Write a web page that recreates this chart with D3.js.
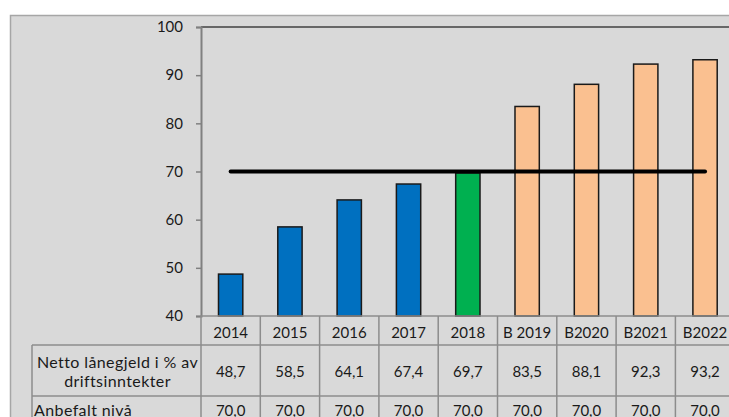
<!DOCTYPE html>
<html>
<head>
<meta charset="utf-8">
<script src="https://cdn.jsdelivr.net/npm/d3@7"></script>
<style>
  body { margin: 0; background: #fff; overflow: hidden; }
  text { font-family: Lato, "Open Sans", sans-serif; fill: #1a1a1a; }
</style>
</head>
<body>
<script>
// data
var categories = ["2014", "2015", "2016", "2017", "2018", "B 2019", "B2020", "B2021", "B2022"];
var lanegjeld = [48.7, 58.5, 64.1, 67.4, 69.7, 83.5, 88.1, 92.3, 93.2];
var anbefalt = [70.0, 70.0, 70.0, 70.0, 70.0, 70.0, 70.0, 70.0, 70.0];
var kind = ["regnskap", "regnskap", "regnskap", "regnskap", "siste", "budsjett", "budsjett", "budsjett", "budsjett"];
var yTicks = [40, 50, 60, 70, 80, 90, 100];
var rowLabels = [["Netto lånegjeld i % av", "driftsinntekter"], ["Anbefalt nivå"]];

var W = 729, H = 417;
var margin = {left: 201, top: 27};
var colW = 59.3;
var plotBottom = 316;

var svg = d3.select("body").append("svg")
    .attr("width", W)
    .attr("height", H);

// chart area background + border
svg.append("rect")
    .attr("x", 10.5).attr("y", 15.5)
    .attr("width", W).attr("height", H)
    .attr("fill", "#d9d9d9")
    .attr("stroke", "#a6a6a6")
    .attr("stroke-width", 1.5);

var x = d3.scaleBand()
    .domain(categories)
    .range([margin.left, margin.left + colW * categories.length]);

var y = d3.scaleLinear()
    .domain([40, 100])
    .range([plotBottom, margin.top]);

var color = d3.scaleOrdinal()
    .domain(["regnskap", "siste", "budsjett"])
    .range(["#0070c0", "#00b050", "#fac090"]);

// top border of plot
svg.append("line")
    .attr("x1", margin.left).attr("x2", W)
    .attr("y1", y(100)).attr("y2", y(100))
    .attr("stroke", "#404040").attr("stroke-width", 1.5);

// y axis
var yAxis = svg.append("g")
    .attr("transform", "translate(" + margin.left + ",0)")
    .call(d3.axisLeft(y).tickValues(yTicks).tickSize(5).tickPadding(13));
yAxis.select(".domain").attr("stroke", "#808080").attr("stroke-width", 2);
yAxis.selectAll(".tick line").attr("stroke", "#808080").attr("stroke-width", 1.5);
yAxis.selectAll(".tick text")
    .style("font-size", "15px")
    .attr("fill", "#1a1a1a");

// bars
var barW = x.bandwidth() * 0.41;
svg.append("g").selectAll("rect")
    .data(categories)
    .enter().append("rect")
    .attr("x", function(d) { return x(d) + (x.bandwidth() - barW) / 2; })
    .attr("y", function(d, i) { return y(lanegjeld[i]); })
    .attr("width", barW)
    .attr("height", function(d, i) { return plotBottom - y(lanegjeld[i]); })
    .attr("fill", function(d, i) { return color(kind[i]); })
    .attr("stroke", "#1a1a1a")
    .attr("stroke-width", 1.5);

// recommended level line
var line = d3.line()
    .x(function(d, i) { return x(categories[i]) + x.bandwidth() / 2; })
    .y(function(d) { return y(d); });
svg.append("path")
    .datum(anbefalt)
    .attr("d", line)
    .attr("fill", "none")
    .attr("stroke", "#000")
    .attr("stroke-width", 4)
    .attr("stroke-linecap", "round");

// data table
var gridColor = "#8c8c8c";
var rowY = [plotBottom, 345, 396];
var tableLeft = 32;
var tableRight = margin.left + colW * categories.length;
var grid = svg.append("g").attr("stroke", gridColor).attr("stroke-width", 1.5);

grid.append("line").attr("x1", margin.left).attr("x2", tableRight)
    .attr("y1", plotBottom).attr("y2", plotBottom);
grid.append("line").attr("x1", tableLeft).attr("x2", tableRight)
    .attr("y1", rowY[1]).attr("y2", rowY[1]);
grid.append("line").attr("x1", tableLeft).attr("x2", tableRight)
    .attr("y1", rowY[2]).attr("y2", rowY[2]);
grid.append("line").attr("x1", tableLeft).attr("x2", tableLeft)
    .attr("y1", rowY[1]).attr("y2", H);
grid.selectAll(".col")
    .data(categories.concat(["end"]))
    .enter().append("line")
    .attr("class", "col")
    .attr("x1", function(d, i) { return margin.left + i * colW; })
    .attr("x2", function(d, i) { return margin.left + i * colW; })
    .attr("y1", plotBottom)
    .attr("y2", H);

var cx = function(i) { return x(categories[i]) + x.bandwidth() / 2; };
var fmt = function(v) { return v.toFixed(1).replace(".", ","); };

// category labels
svg.append("g").selectAll("text")
    .data(categories)
    .enter().append("text")
    .attr("x", function(d, i) { return cx(i); })
    .attr("y", 338)
    .attr("text-anchor", "middle")
    .style("font-size", "15px")
    .text(function(d) { return d; });

// row values
svg.append("g").selectAll("text")
    .data(lanegjeld)
    .enter().append("text")
    .attr("x", function(d, i) { return cx(i); })
    .attr("y", 376.5)
    .attr("text-anchor", "middle")
    .style("font-size", "15px")
    .text(fmt);

svg.append("g").selectAll("text")
    .data(anbefalt)
    .enter().append("text")
    .attr("x", function(d, i) { return cx(i); })
    .attr("y", 416)
    .attr("text-anchor", "middle")
    .style("font-size", "15px")
    .text(fmt);

// row labels
svg.append("text")
    .attr("text-anchor", "middle")
    .style("font-size", "16px")
    .style("letter-spacing", "0.4px")
    .selectAll("tspan")
    .data(rowLabels[0])
    .enter().append("tspan")
    .attr("x", (tableLeft + margin.left) / 2 + 1)
    .attr("y", function(d, i) { return 368 + i * 19; })
    .text(function(d) { return d; });

svg.append("text")
    .attr("x", tableLeft + 2)
    .attr("y", 416)
    .style("font-size", "16px")
    .style("letter-spacing", "0.4px")
    .text(rowLabels[1][0]);
</script>
</body>
</html>
